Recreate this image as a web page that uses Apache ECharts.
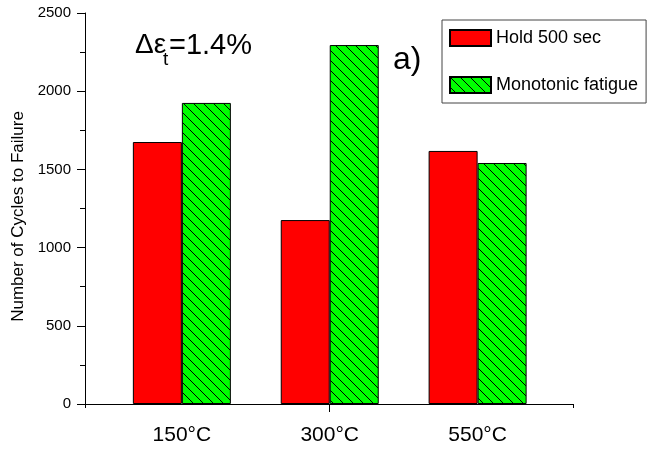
<!DOCTYPE html>
<html lang="en">
<head>
    <meta charset="utf-8">
    <title>Cycles to failure</title>
    <script src="https://cdn.jsdelivr.net/npm/echarts@6/dist/echarts.min.js"></script>
    <style>
        html, body { margin: 0; padding: 0; background: #fff; }
    </style>
</head>
<body>
<div id="main" style="width: 654px; height: 456px;"></div>
<script type="text/javascript">
    // data
    const categories = ['150°C', '300°C', '550°C'];
    const categoryPos = [1, 2, 3];
    const holdValues = [1675, 1176, 1618];
    const monotonicValues = [1925, 2295, 1541];
    const seriesNames = ['Hold 500 sec', 'Monotonic fatigue'];

    const xMin = 0.345, xMax = 3.645;
    const font = 'Liberation Sans, Arial, sans-serif';

    // green with black "\" hatching
    function hatch() {
        const c = document.createElement('canvas');
        c.width = 10; c.height = 10;
        const ctx = c.getContext('2d');
        ctx.fillStyle = '#00ff00';
        ctx.fillRect(0, 0, 10, 10);
        ctx.strokeStyle = '#000';
        ctx.lineWidth = 1;
        ctx.beginPath();
        ctx.moveTo(-1, -1); ctx.lineTo(11, 11);
        ctx.moveTo(-1, 9); ctx.lineTo(1, 11);
        ctx.moveTo(9, -1); ctx.lineTo(11, 1);
        ctx.stroke();
        return c;
    }

    function toPoints(vals) {
        return categoryPos.map((p, i) => [p, vals[i]]);
    }

    let myChart = echarts.init(document.getElementById('main'));
    const option = {
        animation: false,
        textStyle: { fontFamily: font },
        grid: { left: 85, right: 81, top: 13, bottom: 52 },
        legend: {
            data: seriesNames,
            orient: 'vertical',
            left: 442, top: 20,
            padding: [9, 8, 9, 7],
            itemWidth: 41, itemHeight: 16, itemGap: 29,
            borderColor: '#444', borderWidth: 1,
            backgroundColor: '#fff',
            icon: 'rect',
            textStyle: { fontSize: 18, color: '#000', fontFamily: font }
        },
        xAxis: [{
            type: 'value', min: xMin, max: xMax,
            splitLine: { show: false },
            axisLine: { show: true, lineStyle: { color: '#000', width: 1 } },
            axisTick: { show: true, customValues: [2], length: 8, lineStyle: { color: '#000' } },
            axisLabel: {
                customValues: categoryPos,
                formatter: v => categories[Math.round(v) - 1],
                fontSize: 21, color: '#000', margin: 21, fontFamily: font
            }
        }, {
            type: 'value', min: xMin, max: xMax, position: 'bottom',
            splitLine: { show: false },
            axisLine: { show: false },
            axisTick: { show: true, customValues: [xMin, xMax], length: 4, lineStyle: { color: '#000' } },
            axisLabel: { show: false }
        }],
        yAxis: {
            type: 'value', min: 0, max: 2500, interval: 500,
            name: 'Number of Cycles to Failure',
            nameLocation: 'middle', nameGap: 56,
            nameTextStyle: { fontSize: 17, color: '#000', fontFamily: font, padding: [0, 16, 0, 0] },
            splitLine: { show: false },
            axisLine: { show: true, lineStyle: { color: '#000', width: 1 } },
            axisTick: { show: true, length: 8, lineStyle: { color: '#000' } },
            minorTick: { show: true, splitNumber: 2, length: 5, lineStyle: { color: '#000' } },
            axisLabel: { fontSize: 15, color: '#000', margin: 14, fontFamily: font, formatter: v => String(v) }
        },
        series: [{
            name: seriesNames[0],
            type: 'bar',
            barWidth: 49, barGap: '0%',
            itemStyle: { color: '#ff0000', borderColor: '#000', borderWidth: 1 },
            data: toPoints(holdValues)
        }, {
            name: seriesNames[1],
            type: 'bar',
            barWidth: 49, barGap: '0%',
            itemStyle: { color: { image: hatch(), repeat: 'repeat' }, borderColor: '#000', borderWidth: 1 },
            data: toPoints(monotonicValues)
        }],
        graphic: [
            { type: 'text', left: 135, top: 31, style: { text: 'Δε', fontSize: 28, fill: '#000', fontFamily: font } },
            { type: 'text', left: 163, top: 50, style: { text: 't', fontSize: 19, fill: '#000', fontFamily: font } },
            { type: 'text', left: 169, top: 31, style: { text: '=1.4%', fontSize: 29, fill: '#000', fontFamily: font } },
            { type: 'text', left: 393, top: 44, style: { text: 'a)', fontSize: 32, fill: '#000', fontFamily: font } }
        ]
    };
    myChart.setOption(option);
</script>
</body>
</html>
